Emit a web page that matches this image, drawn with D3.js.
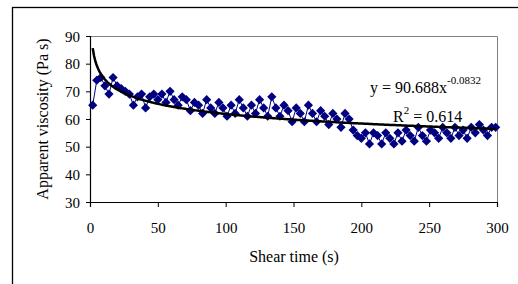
<!DOCTYPE html>
<html>
<head>
<meta charset="utf-8">
<script src="https://cdn.jsdelivr.net/npm/d3@7"></script>
<style>
  body { margin: 0; background: #fff; }
  text { font-family: "Liberation Serif", "Times New Roman", serif; fill: #000; }
</style>
</head>
<body>
<div id="chart"></div>
<script>
// shear time (s) and apparent viscosity (Pa s)
var shearTime = [2, 5, 8, 11, 14, 17, 20, 23, 26, 29, 32, 35, 38, 41, 44, 47, 50, 53, 56, 59,
  62, 65, 68, 71, 74, 77, 80, 83, 86, 89, 92, 95, 98, 101, 104, 107, 110, 113, 116, 119,
  122, 125, 128, 131, 134, 137, 140, 143, 146, 149, 152, 155, 158, 161, 164, 167, 170, 173, 176, 179,
  182, 185, 188, 191, 194, 197, 200, 203, 206, 209, 212, 215, 218, 221, 224, 227, 230, 233, 236, 239,
  242, 245, 248, 251, 254, 257, 260, 263, 266, 269, 272, 275, 278, 281, 284, 287, 290, 293, 296, 299];
var viscosity = [65, 74, 75, 72, 69, 75, 72, 71, 70, 69, 65, 68, 69, 64, 68, 69, 67, 69, 66, 70,
  67, 65, 68, 67, 63, 66, 65, 62, 67, 64, 62, 66, 64, 61, 65, 62, 67, 64, 61, 65,
  62, 67, 64, 61, 68, 64, 61, 65, 63, 59, 64, 62, 59, 65, 62, 59, 63, 61, 58, 62,
  60, 57, 62, 60, 56, 54, 53, 55, 51, 55, 54, 51, 55, 53, 51, 55, 52, 56, 54, 52,
  57, 54, 52, 56, 55, 53, 57, 55, 53, 57, 54, 56, 53, 57, 55, 58, 56, 54, 57, 57];
var xTicks = [0, 50, 100, 150, 200, 250, 300];
var yTicks = [30, 40, 50, 60, 70, 80, 90];
// power trend line y = a * x^b
var fitA = 90.688, fitB = -0.0832;

var svgWidth = 518, svgHeight = 284;
var margin = { top: 36, right: 21, bottom: 82, left: 90 };
var width = svgWidth - margin.left - margin.right;
var height = svgHeight - margin.top - margin.bottom;

var svg = d3.select("#chart").append("svg")
  .attr("width", svgWidth)
  .attr("height", svgHeight);

// outer chart frame
svg.append("rect")
  .attr("x", 12.5).attr("y", 7.5)
  .attr("width", 520).attr("height", 290)
  .attr("fill", "none").attr("stroke", "#000").attr("stroke-width", 1.3);

var g = svg.append("g")
  .attr("transform", `translate(${margin.left}, ${margin.top})`);

var x = d3.scaleLinear().domain([0, 300]).range([0, width]);
var y = d3.scaleLinear().domain([30, 90]).range([height, 0]);

// plot area border (top and right)
g.append("path")
  .attr("d", `M0.5,0.5H${width + 0.5}V${height}`)
  .attr("fill", "none").attr("stroke", "#808080");

var xAxis = g.append("g")
  .attr("transform", `translate(0, ${height})`)
  .call(d3.axisBottom(x).tickValues(xTicks).tickSize(5).tickPadding(15));
var yAxis = g.append("g")
  .call(d3.axisLeft(y).tickValues(yTicks).tickSize(4).tickPadding(6));

[xAxis, yAxis].forEach(function(a) {
  a.select(".domain").attr("stroke", "#000").attr("stroke-width", 1.2);
  a.selectAll(".tick line").attr("stroke", "#000");
  a.selectAll("text").attr("font-size", "15px")
    .attr("font-family", "Liberation Serif, Times New Roman, serif");
});
yAxis.selectAll("text").attr("dy", "0.35em");

var points = shearTime.map(function(t, i) { return [t, viscosity[i]]; });

// connecting line
g.append("path")
  .datum(points)
  .attr("fill", "none")
  .attr("stroke", "#000080")
  .attr("stroke-width", 1)
  .attr("d", d3.line().x(d => x(d[0])).y(d => y(d[1])));

// diamond markers
var r = 4.6;
g.selectAll(".pt")
  .data(points)
  .enter()
  .append("path")
  .attr("class", "pt")
  .attr("d", d => `M${x(d[0])},${y(d[1]) - r}L${x(d[0]) + r},${y(d[1])}L${x(d[0])},${y(d[1]) + r}L${x(d[0]) - r},${y(d[1])}Z`)
  .attr("fill", "#000080");

// trend line
var trend = d3.range(shearTime[0], 300, 1).concat([shearTime[shearTime.length - 1]])
  .map(t => [t, fitA * Math.pow(t, fitB)]);
g.append("path")
  .datum(trend)
  .attr("fill", "none")
  .attr("stroke", "#000")
  .attr("stroke-width", 2.5)
  .attr("d", d3.line().x(d => x(d[0])).y(d => y(d[1])));

// equation labels
var eq = svg.append("text")
  .attr("x", 370).attr("y", 93)
  .attr("font-size", "16px");
eq.append("tspan").text("y = 90.688x");
eq.append("tspan").attr("dy", -9).attr("font-size", "11px").text("-0.0832");

var r2 = svg.append("text")
  .attr("x", 393).attr("y", 122)
  .attr("font-size", "16px");
r2.append("tspan").text("R");
r2.append("tspan").attr("dy", -8).attr("font-size", "11px").text("2");
r2.append("tspan").attr("dy", 8).text(" = 0.614");

// axis titles
svg.append("text")
  .attr("x", 294).attr("y", 262)
  .attr("text-anchor", "middle")
  .attr("font-size", "16px")
  .text("Shear time (s)");

svg.append("text")
  .attr("transform", `translate(48, ${margin.top + height / 2}) rotate(-90)`)
  .attr("text-anchor", "middle")
  .attr("font-size", "16px")
  .text("Apparent viscosity (Pa s)");
</script>
</body>
</html>
